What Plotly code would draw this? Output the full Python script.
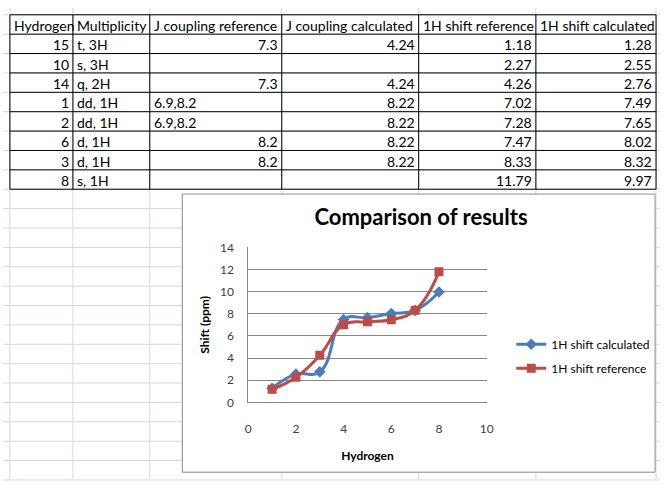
import plotly.graph_objects as go

# table data
hydrogen = [15, 10, 14, 1, 2, 6, 3, 8]
multiplicity = ["t, 3H", "s, 3H", "q, 2H", "dd, 1H", "dd, 1H", "d, 1H", "d, 1H", "s, 1H"]
j_ref = ["7.3", "", "7.3", "6.9,8.2", "6.9,8.2", "8.2", "8.2", ""]
j_calc = ["4.24", "", "4.24", "8.22", "8.22", "8.22", "8.22", ""]
shift_ref = [1.18, 2.27, 4.26, 7.02, 7.28, 7.47, 8.33, 11.79]
shift_calc = [1.28, 2.55, 2.76, 7.49, 7.65, 8.02, 8.32, 9.97]
headers = ["Hydrogen", "Multiplicity", "J coupling reference", "J coupling calculated",
           "1H shift reference", "1H shift calculated"]
row_no = [1, 2, 3, 4, 5, 6, 7, 8]

W, H = 667, 486
FONT = "Lato"
BLUE = "#4a7ebb"
RED = "#be4b48"
GRID = "#d0d7e5"
TICK = "#404040"

def px(x):
    return x / W

def py(y):
    return 1 - y / H

col_x = [7, 71, 149, 283, 422, 541, 663]
top, rh = 7, 20

shapes = []
# spreadsheet gridlines
for y in range(7, 490, 20):
    shapes.append(dict(type="line", xref="paper", yref="paper", x0=0, x1=1, y0=py(y), y1=py(y),
                       line=dict(color=GRID, width=1), layer="below"))
for x in col_x:
    shapes.append(dict(type="line", xref="paper", yref="paper", x0=px(x), x1=px(x), y0=0, y1=1,
                       line=dict(color=GRID, width=1), layer="below"))
# table borders
for r in range(10):
    y = top + r * rh
    shapes.append(dict(type="line", xref="paper", yref="paper", x0=px(col_x[0]), x1=px(col_x[-1]),
                       y0=py(y), y1=py(y), line=dict(color="black", width=1), layer="below"))
for x in col_x:
    shapes.append(dict(type="line", xref="paper", yref="paper", x0=px(x), x1=px(x),
                       y0=py(top + 9 * rh), y1=py(top), line=dict(color="black", width=1), layer="below"))
# chart box
shapes.append(dict(type="rect", xref="paper", yref="paper", x0=px(182), x1=px(662), y0=py(479), y1=py(192),
                   fillcolor="white", line=dict(color="#8c8c8c", width=1), layer="below"))

# table text
annotations = []
def cell(text, col, row, align):
    yc = top + row * rh + rh / 2 + 1
    if align == "left":
        xx, anchor = col_x[col] + 2, "left"
    else:
        xx, anchor = col_x[col + 1] - 2, "right"
    annotations.append(dict(text=str(text), x=px(xx), y=py(yc), xref="paper", yref="paper",
                            xanchor=anchor, yanchor="middle", showarrow=False,
                            font=dict(family=FONT, size=14, color="black")))

for c, h in enumerate(headers):
    cell(h, c, 0, "left")
columns = [hydrogen, multiplicity, j_ref, j_calc, shift_ref, shift_calc]
for c, vals in enumerate(columns):
    for r, v in enumerate(vals):
        if v == "":
            continue
        if isinstance(v, str) and not v.replace(".", "").isdigit():
            align = "left"
        else:
            align = "right"
        cell(v, c, r + 1, align)

fig = go.Figure()
fig.add_trace(go.Scatter(x=row_no, y=shift_calc, name="1H shift calculated", mode="lines+markers",
                         line=dict(color=BLUE, width=3, shape="spline", smoothing=1.3),
                         marker=dict(symbol="diamond", size=9, color=BLUE), legendgroup="a"))
fig.add_trace(go.Scatter(x=row_no, y=shift_ref, name="1H shift reference", mode="lines+markers",
                         line=dict(color=RED, width=3, shape="spline", smoothing=1.3),
                         marker=dict(symbol="square", size=9, color=RED), legendgroup="b"))

fig.update_layout(
    width=W, height=H, margin=dict(l=0, r=0, t=0, b=0),
    paper_bgcolor="white", plot_bgcolor="rgba(0,0,0,0)",
    font=dict(family=FONT, color="black"),
    shapes=shapes, annotations=annotations,
    title=dict(text="<b>Comparison of results</b>", x=px(421), y=py(217), xanchor="center", yanchor="middle",
               font=dict(size=22, family=FONT)),
    xaxis=dict(domain=[px(249), px(491)], range=[0, 10], dtick=2, showgrid=False,
               showline=True, linecolor="#868686", ticks="",
               tickfont=dict(size=12, color=TICK), ticklabelstandoff=15, zeroline=False,
               title=dict(text="<b>Hydrogen</b>", font=dict(size=12), standoff=16)),
    yaxis=dict(domain=[py(407), py(247)], range=[0, 14], dtick=2, showgrid=True, gridcolor="#868686",
               showline=True, linecolor="#868686", ticks="",
               tickfont=dict(size=12, color=TICK), ticklabelstandoff=11, zeroline=False,
               title=dict(text="<b>Shift (ppm)</b>", font=dict(size=12), standoff=7)),
    legend=dict(x=px(516), y=py(332), xanchor="left", yanchor="top", bgcolor="rgba(0,0,0,0)",
                font=dict(size=12), tracegroupgap=5, itemwidth=30),
)

fig.write_html("out.html", config={"displayModeBar": False},
               post_script="document.body.style.margin='0';")
